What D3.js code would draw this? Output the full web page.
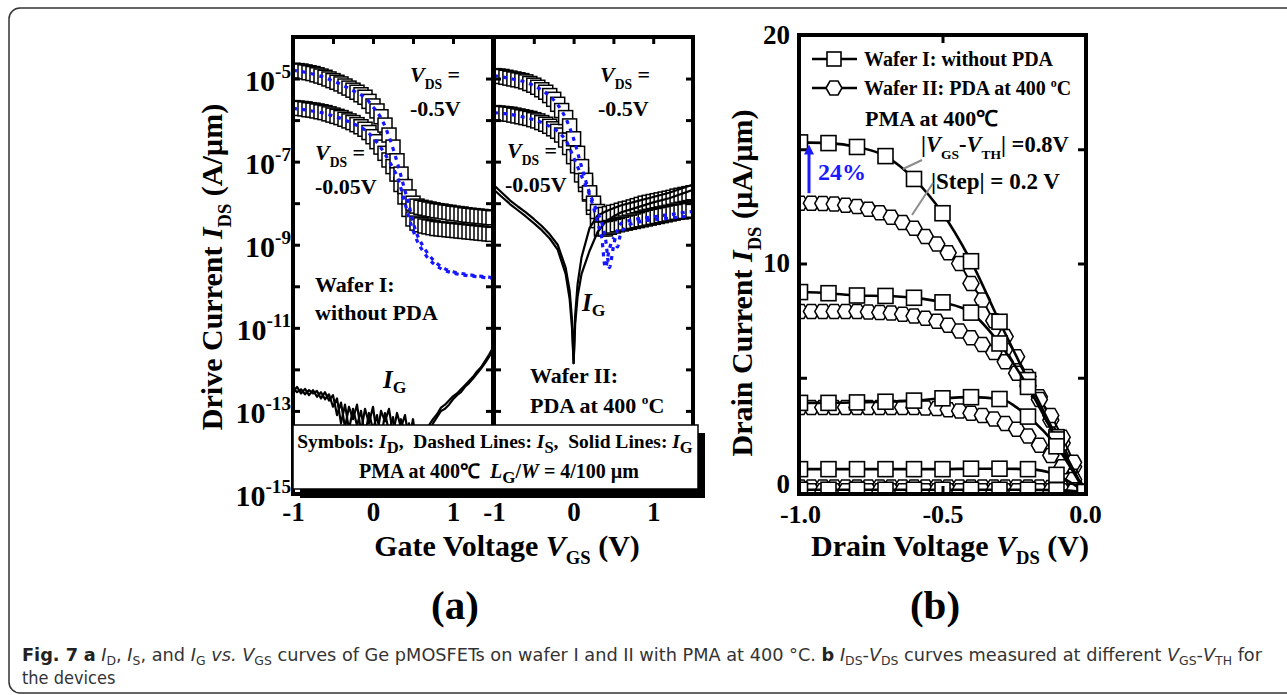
<!DOCTYPE html>
<html>
<meta charset="utf-8">
<style>
body { margin: 0; background: #fff; }
svg { display: block; }
text { font-family: "Liberation Serif", "Times New Roman", serif; font-weight: bold; fill: #000; }
text.cap { font-family: "Liberation Sans Narrow", "DejaVu Sans Condensed", "Noto Sans", sans-serif; font-weight: normal; fill: #333; }
</style>
<body>
<script src="https://d3js.org/d3.v7.min.js"></script>
<script>
// ---------- panel (a): transfer curves, values are log10(I) in A/um ----------
var vgsA = [-1.00,-0.95,-0.90,-0.85,-0.80,-0.75,-0.70,-0.65,-0.60,-0.55,-0.50,-0.45,-0.40,-0.35,-0.30,-0.25,-0.20,-0.15,-0.10,-0.05,
            0.00,0.05,0.10,0.15,0.20,0.25,0.30,0.35,0.40,0.45,0.50,0.55,0.60,0.65,0.70,0.75,0.80,0.85,0.90,0.95,
            1.00,1.05,1.10,1.15,1.20,1.25,1.30,1.35,1.40,1.45,1.50];
// I_D symbols, wafer I (Vds = -0.5 V and -0.05 V)
var idW1hi = [-4.80,-4.81,-4.82,-4.84,-4.86,-4.88,-4.91,-4.94,-4.97,-5.01,-5.05,-5.09,-5.13,-5.18,-5.23,-5.28,-5.33,-5.39,-5.45,-5.55,
              -5.66,-5.78,-5.92,-6.12,-6.36,-6.65,-6.98,-7.30,-7.60,-7.85,-8.00,-8.07,-8.10,-8.12,-8.14,-8.16,-8.18,-8.19,-8.21,-8.22,
              -8.24,-8.25,-8.26,-8.28,-8.29,-8.30,-8.31,-8.32,-8.33,-8.34,-8.35];
var idW1lo = [-5.70,-5.71,-5.72,-5.73,-5.75,-5.76,-5.78,-5.80,-5.82,-5.85,-5.88,-5.91,-5.94,-5.98,-6.02,-6.06,-6.11,-6.16,-6.22,-6.30,
              -6.40,-6.52,-6.65,-6.80,-6.96,-7.12,-7.30,-7.55,-7.85,-8.15,-8.38,-8.48,-8.52,-8.55,-8.57,-8.59,-8.61,-8.62,-8.63,-8.64,
              -8.65,-8.66,-8.67,-8.68,-8.69,-8.70,-8.71,-8.72,-8.73,-8.74,-8.75];
// I_D symbols, wafer II
var idW2hi = [-4.93,-4.94,-4.95,-4.97,-4.99,-5.01,-5.03,-5.05,-5.08,-5.12,-5.16,-5.21,-5.27,-5.33,-5.41,-5.50,-5.62,-5.77,-5.94,-6.14,
              -6.45,-6.80,-7.12,-7.45,-7.75,-8.00,-8.20,-8.28,-8.27,-8.25,-8.22,-8.20,-8.17,-8.14,-8.12,-8.09,-8.06,-8.03,-8.00,-7.98,
              -7.96,-7.94,-7.92,-7.90,-7.88,-7.86,-7.83,-7.81,-7.79,-7.77,-7.75];
var idW2lo = [-5.82,-5.83,-5.84,-5.85,-5.86,-5.88,-5.90,-5.92,-5.94,-5.96,-5.99,-6.02,-6.06,-6.10,-6.15,-6.21,-6.27,-6.36,-6.48,-6.66,
              -6.88,-7.10,-7.32,-7.55,-7.78,-8.10,-8.42,-8.62,-8.62,-8.58,-8.55,-8.52,-8.50,-8.48,-8.46,-8.44,-8.42,-8.40,-8.38,-8.36,
              -8.34,-8.32,-8.30,-8.28,-8.26,-8.24,-8.22,-8.21,-8.20,-8.18,-8.17];
// I_S dashed lines
var vgsS = [-1.0,-0.9,-0.8,-0.7,-0.6,-0.5,-0.4,-0.3,-0.2,-0.1,0.0,0.1,0.2,0.3,0.35,0.4,0.45,0.5,0.55,0.6,0.7,0.8,0.9,1.0,1.1,1.2,1.3,1.4,1.5];
var isW1hi = [-4.80,-4.83,-4.87,-4.92,-4.98,-5.06,-5.14,-5.24,-5.34,-5.46,-5.68,-5.95,-6.40,-7.00,-7.35,-7.70,-8.05,-8.45,-8.75,-8.95,
              -9.25,-9.45,-9.58,-9.65,-9.69,-9.72,-9.75,-9.77,-9.79];
var isW1lo = [-5.72,-5.74,-5.77,-5.80,-5.84,-5.90,-5.96,-6.04,-6.13,-6.24,-6.42,-6.67,-6.98,-7.35,-7.65,-8.00,-8.35,-8.65,-8.90,-9.08,
              -9.35,-9.52,-9.62,-9.68,-9.72,-9.75,-9.77,-9.79,-9.81];
var isW2hi = [-4.93,-4.96,-5.00,-5.04,-5.09,-5.17,-5.28,-5.42,-5.63,-5.95,-6.45,-7.12,-7.75,-8.22,-8.45,-8.85,-9.55,-9.05,-8.65,-8.48,
              -8.42,-8.38,-8.35,-8.33,-8.30,-8.28,-8.25,-8.22,-8.20];
var isW2lo = [-5.82,-5.84,-5.86,-5.90,-5.94,-5.99,-6.06,-6.15,-6.27,-6.48,-6.90,-7.35,-7.80,-8.45,-8.80,-9.55,-9.10,-8.85,-9.05,-8.70,
              -8.52,-8.46,-8.42,-8.40,-8.38,-8.36,-8.34,-8.32,-8.30];
// I_G solid lines, wafer I (noisy floor), read on the vgsA grid
var igW1a = [-12.45,-12.55,-12.48,-12.60,-12.50,-12.58,-12.52,-12.70,-12.55,-12.75,-12.62,-13.10,-12.80,-13.40,-12.90,-13.20,-12.85,-13.50,-12.95,-13.30,
             -12.90,-13.60,-13.00,-13.25,-12.95,-13.55,-13.05,-13.40,-13.10,-13.70,-13.20,-13.90,-14.10,-13.70,-13.50,-13.30,-13.15,-13.00,-12.95,-12.85,
             -12.72,-12.62,-12.55,-12.42,-12.33,-12.22,-12.10,-11.98,-11.85,-11.70,-11.52];
var igW1b = [-12.55,-12.42,-12.58,-12.47,-12.62,-12.50,-12.66,-12.55,-12.72,-12.60,-12.90,-12.70,-13.30,-12.85,-13.45,-12.95,-13.35,-13.00,-13.60,-13.05,
             -13.45,-13.10,-13.70,-13.05,-13.50,-13.15,-13.80,-13.20,-13.60,-13.30,-14.00,-13.60,-13.75,-13.55,-13.35,-13.20,-13.08,-12.92,-12.85,-12.75,
             -12.65,-12.58,-12.48,-12.38,-12.28,-12.18,-12.05,-11.95,-11.80,-11.65,-11.48];
// I_G solid lines, wafer II
var vgsG2 = [-1.0,-0.9,-0.8,-0.7,-0.6,-0.5,-0.4,-0.3,-0.2,-0.1,-0.05,-0.02,0.0,0.02,0.05,0.1,0.2,0.3,0.4,0.5,0.6,0.8,1.0,1.2,1.5];
var igW2a = [-7.57,-7.75,-7.93,-8.08,-8.22,-8.38,-8.55,-8.75,-9.00,-9.55,-10.10,-10.80,-11.85,-10.70,-9.95,-9.30,-8.60,-8.30,-8.20,-8.12,
             -8.05,-7.95,-7.85,-7.75,-7.55];
var igW2b = [-7.68,-7.85,-8.02,-8.17,-8.32,-8.48,-8.65,-8.85,-9.12,-9.70,-10.30,-11.00,-11.85,-10.90,-10.25,-9.70,-9.15,-8.70,-8.45,-8.32,
             -8.22,-8.10,-7.98,-7.88,-7.68];
var yTicksA = [-5, -7, -9, -11, -13, -15];
var xTicksA = [-1, 0, 1];

// ---------- panel (b): output curves, uA/um ----------
var vdsW1 = [-1.0,-0.9,-0.8,-0.7,-0.6,-0.5,-0.4,-0.3,-0.2,-0.1,0.0];
var idW1_08 = [15.3,15.27,15.1,14.7,13.7,12.2,10.1,7.45,4.9,2.4,0];
var idW1_06 = [8.75,8.7,8.6,8.58,8.5,8.3,7.85,6.5,4.6,2.3,0];
var idW1_04 = [3.9,3.9,3.92,3.95,4.0,4.1,4.15,4.07,3.3,2.0,0];
var idW1_02 = [1.0,1.0,1.0,1.0,1.0,1.0,1.02,1.02,1.0,0.75,0];
var idW1_00 = [0.1,0.1,0.1,0.1,0.1,0.1,0.1,0.1,0.1,0.08,0];
var vdsW2 = [-1.00,-0.96,-0.92,-0.88,-0.84,-0.80,-0.76,-0.72,-0.68,-0.64,-0.60,-0.56,-0.52,-0.48,-0.44,-0.40,-0.36,-0.32,-0.28,-0.24,
             -0.20,-0.16,-0.12,-0.08,-0.04,0.00];
var idW2_08 = [12.64,12.64,12.63,12.6,12.55,12.49,12.37,12.22,12.02,11.79,11.54,11.18,10.85,10.47,10.0,9.13,8.4,7.5,6.8,5.92,
               5.05,4.17,3.15,2.14,1.1,0];
var idW2_06 = [7.9,7.9,7.9,7.9,7.9,7.9,7.88,7.86,7.83,7.78,7.7,7.6,7.47,7.3,7.05,6.75,6.45,6.1,5.7,5.2,
               4.65,4.05,3.35,2.4,1.3,0];
var idW2_04 = [3.7,3.7,3.7,3.7,3.7,3.7,3.7,3.7,3.7,3.7,3.7,3.68,3.65,3.6,3.55,3.45,3.35,3.2,3.0,2.75,
               2.45,2.05,1.6,1.1,0.55,0];
var idW2_02 = [0.22,0.22,0.22,0.22,0.22,0.22,0.22,0.22,0.22,0.22,0.22,0.22,0.22,0.22,0.22,0.22,0.22,0.22,0.22,0.22,
               0.22,0.22,0.2,0.17,0.1,0];
var idW2_00 = [0.05,0.05,0.05,0.05,0.05,0.05,0.05,0.05,0.05,0.05,0.05,0.05,0.05,0.05,0.05,0.05,0.05,0.05,0.05,0.05,
               0.05,0.05,0.05,0.05,0.03,0];
var yTicksB = [0, 10, 20];
var xTicksB = [-1.0, -0.5, 0.0];

var svg = d3.select("body").append("svg").attr("width", 1287).attr("height", 695);

// card outline
svg.append("rect").attr("x", 9).attr("y", 8).attr("width", 1300).attr("height", 685).attr("rx", 11)
  .attr("fill", "none").attr("stroke", "#333").attr("stroke-width", 1.5);

// text with sub/superscripts
function rich(g, x, y, size, parts, anchor, cls) {
  var t = g.append("text").attr("x", x).attr("y", y).style("font-size", size + "px")
    .attr("text-anchor", anchor || "start");
  if (cls) t.attr("class", cls);
  var off = 0;
  parts.forEach(function(p) {
    if (typeof p === "string") p = {t: p};
    var shift = p.sub ? size * (p.d || 0.32) : p.sup ? -size * (p.d || 0.42) : 0;
    var s = t.append("tspan").attr("dy", shift - off).text(p.t);
    off = shift;
    if (p.sub || p.sup) s.style("font-size", size * (p.k || 0.6) + "px");
    if (p.i) s.style("font-style", "italic");
    if (p.b) s.style("font-weight", "bold");
    if (p.c) s.style("fill", p.c);
  });
  return t;
}

function styleTicks(ax, w) {
  ax.select(".domain").remove();
  ax.selectAll(".tick line").attr("stroke", "#000").attr("stroke-width", w);
}

// ================= panel (a) =================
var yA = d3.scaleLog().domain([1e-15, 1e-4]).range([494, 37]);
var xA1 = d3.scaleLinear().domain([-1, 1.5]).range([293, 493]);
var xA2 = d3.scaleLinear().domain([-1, 1.5]).range([494, 693]);
function ey(v) { return yA(Math.pow(10, v)); }

function drawTransfer(xs, key, idHi, idLo, isHi, isLo, igA, igB, vG) {
  var x0 = xs.range()[0], x1 = xs.range()[1], yt = yA.range()[1], yb = yA.range()[0];
  svg.append("clipPath").attr("id", key).append("rect")
    .attr("x", x0).attr("y", yt).attr("width", x1 - x0).attr("height", yb - yt);
  var g = svg.append("g").attr("clip-path", "url(#" + key + ")");

  [idLo, idHi].forEach(function(arr) {
    g.append("g").selectAll("rect").data(arr).join("rect")
      .attr("x", function(d, i) { return xs(vgsA[i]) - 7; })
      .attr("y", function(d) { return ey(d) - 7; })
      .attr("width", 14).attr("height", 14)
      .attr("fill", "#fff").attr("stroke", "#000").attr("stroke-width", 1.5);
  });

  var lg = d3.line().x(function(d, i) { return xs(vG[i]); }).y(function(d) { return ey(d); });
  [igA, igB].forEach(function(arr) {
    g.append("path").attr("d", lg(arr)).attr("fill", "none").attr("stroke", "#000")
      .attr("stroke-width", 2.2).attr("stroke-linejoin", "round");
  });

  var ls = d3.line().x(function(d, i) { return xs(vgsS[i]); }).y(function(d) { return ey(d); })
    .curve(d3.curveCatmullRom);
  [isHi, isLo].forEach(function(arr) {
    g.append("path").attr("d", ls(arr)).attr("fill", "none").attr("stroke", "#1515ff")
      .attr("stroke-width", 3.2).attr("stroke-dasharray", "4,5");
  });

  // inner ticks
  var dec = d3.range(-14, -4).map(function(e) { return Math.pow(10, e); });
  styleTicks(svg.append("g").attr("transform", "translate(" + x0 + ",0)")
    .call(d3.axisRight(yA).tickValues(dec).tickSize(7).tickFormat("")), 3);
  styleTicks(svg.append("g").attr("transform", "translate(" + x1 + ",0)")
    .call(d3.axisLeft(yA).tickValues(dec).tickSize(7).tickFormat("")), 3);
  var xt = [-0.5, 0, 0.5, 1];
  styleTicks(svg.append("g").attr("transform", "translate(0," + yt + ")")
    .call(d3.axisBottom(xs).tickValues(xt).tickSize(7).tickFormat("")), 3);
  styleTicks(svg.append("g").attr("transform", "translate(0," + yb + ")")
    .call(d3.axisTop(xs).tickValues(xt).tickSize(7).tickFormat("")), 3);

  svg.append("rect").attr("x", x0).attr("y", yt).attr("width", x1 - x0).attr("height", yb - yt)
    .attr("fill", "none").attr("stroke", "#000").attr("stroke-width", 4);

  // x tick labels
  var ax = svg.append("g").attr("transform", "translate(0,521)")
    .call(d3.axisBottom(xs).tickValues(xTicksA).tickSize(0).tickPadding(0)
      .tickFormat(function(v) { return String(v); }));
  ax.select(".domain").remove();
  ax.selectAll("text").attr("dy", null).attr("y", 0).style("font-size", "27px");
}

drawTransfer(xA1, "clipA1", idW1hi, idW1lo, isW1hi, isW1lo, igW1a, igW1b, vgsA);
drawTransfer(xA2, "clipA2", idW2hi, idW2lo, isW2hi, isW2lo, igW2a, igW2b, vgsG2);

// y tick labels 10^n
yTicksA.forEach(function(e) {
  rich(svg, 291, ey(e) + 12, 30, ["10", {t: String(e), sup: true, k: 0.64, d: 0.42}], "end");
});

// annotations (a)
rich(svg, 410, 82, 22, [{t: "V", i: true}, {t: "DS", sub: true, k: 0.62, d: 0.3}, " ="]);
rich(svg, 410, 116, 22, ["-0.5V"]);
rich(svg, 315, 160, 22, [{t: "V", i: true}, {t: "DS", sub: true, k: 0.62, d: 0.3}, " ="]);
rich(svg, 315, 194, 22, ["-0.05V"]);
rich(svg, 315, 292, 22, ["Wafer I:"]);
rich(svg, 315, 320, 22, ["without PDA"]);
rich(svg, 383, 388, 25, [{t: "I", i: true}, {t: "G", sub: true, k: 0.7, d: 0.2}]);

rich(svg, 600, 82, 22, [{t: "V", i: true}, {t: "DS", sub: true, k: 0.62, d: 0.3}, " ="]);
rich(svg, 598, 116, 22, ["-0.5V"]);
rich(svg, 507, 158, 22, [{t: "V", i: true}, {t: "DS", sub: true, k: 0.62, d: 0.3}, " ="]);
rich(svg, 505, 192, 22, ["-0.05V"]);
rich(svg, 582, 311, 25, [{t: "I", i: true}, {t: "G", sub: true, k: 0.7, d: 0.2}]);
rich(svg, 530, 383, 22, ["Wafer II:"]);
rich(svg, 530, 413, 22, ["PDA at 400 ", {t: "o", sup: true, k: 0.6, d: 0.42}, "C"]);

// legend box (a)
svg.append("rect").attr("x", 300).attr("y", 433).attr("width", 405).attr("height", 65).attr("fill", "#000");
svg.append("rect").attr("x", 293).attr("y", 425).attr("width", 405).attr("height", 64)
  .attr("fill", "#fff").attr("stroke", "#000").attr("stroke-width", 1.5);
rich(svg, 495, 448, 19.5, ["Symbols: ", {t: "I", i: true}, {t: "D", sub: true, k: 0.85, d: 0.25}, ",\u00a0 Dashed Lines: ",
  {t: "I", i: true}, {t: "S", sub: true, k: 0.85, d: 0.25}, ",\u00a0 Solid Lines: ", {t: "I", i: true},
  {t: "G", sub: true, k: 0.85, d: 0.25}], "middle");
rich(svg, 499, 478, 20, ["PMA at 400\u2103\u00a0 ", {t: "L", i: true}, {t: "G", sub: true, k: 0.85, d: 0.25},
  "/", {t: "W", i: true}, " = 4/100 \u00b5m"], "middle");

// axis titles (a)
rich(svg, 507, 556, 30, ["Gate Voltage ", {t: "V", i: true}, {t: "GS", sub: true, k: 0.62, d: 0.28}, " (V)"], "middle");
var gya = svg.append("g").attr("transform", "translate(222,267) rotate(-90)");
rich(gya, 0, 0, 30, ["Drive Current ", {t: "I", i: true}, {t: "DS", sub: true, k: 0.62, d: 0.3}, " (A/\u00b5m)"], "middle");

// ================= panel (b) =================
var xB = d3.scaleLinear().domain([-1, 0]).range([800, 1085]);
var yB = d3.scaleLinear().domain([0, 20]).range([492, 35]);

svg.append("clipPath").attr("id", "clipB").append("rect")
  .attr("x", 799).attr("y", 35).attr("width", 287).attr("height", 459);
var gb = svg.append("g").attr("clip-path", "url(#clipB)");

function hexPath(w, h) {
  return "M" + (-w / 2) + ",0L" + (-w / 4) + "," + (-h / 2) + "L" + (w / 4) + "," + (-h / 2) +
    "L" + (w / 2) + ",0L" + (w / 4) + "," + (h / 2) + "L" + (-w / 4) + "," + (h / 2) + "Z";
}
var hex = hexPath(16, 14);

[idW2_08, idW2_06, idW2_04, idW2_02, idW2_00].forEach(function(arr) {
  var ln = d3.line().x(function(d, i) { return xB(vdsW2[i]); }).y(function(d) { return yB(d); })
    .curve(d3.curveMonotoneX);
  gb.append("path").attr("d", ln(arr)).attr("fill", "none").attr("stroke", "#000").attr("stroke-width", 2);
  gb.append("g").selectAll("path").data(arr).join("path")
    .attr("transform", function(d, i) { return "translate(" + xB(vdsW2[i]) + "," + yB(d) + ")"; })
    .attr("d", hex).attr("fill", "#fff").attr("stroke", "#000").attr("stroke-width", 1.5);
});
[idW1_08, idW1_06, idW1_04, idW1_02, idW1_00].forEach(function(arr) {
  var ln = d3.line().x(function(d, i) { return xB(vdsW1[i]); }).y(function(d) { return yB(d); })
    .curve(d3.curveMonotoneX);
  gb.append("path").attr("d", ln(arr)).attr("fill", "none").attr("stroke", "#000").attr("stroke-width", 2.6);
  gb.append("g").selectAll("rect").data(arr).join("rect")
    .attr("x", function(d, i) { return xB(vdsW1[i]) - 7.5; })
    .attr("y", function(d) { return yB(d) - 7.5; })
    .attr("width", 15).attr("height", 15)
    .attr("fill", "#fff").attr("stroke", "#000").attr("stroke-width", 1.6);
});

styleTicks(svg.append("g").attr("transform", "translate(799,0)")
  .call(d3.axisRight(yB).tickValues([5, 10, 15]).tickSize(8).tickFormat("")), 3);
styleTicks(svg.append("g").attr("transform", "translate(1086,0)")
  .call(d3.axisLeft(yB).tickValues([5, 10, 15]).tickSize(8).tickFormat("")), 3);
styleTicks(svg.append("g").attr("transform", "translate(0,35)")
  .call(d3.axisBottom(xB).tickValues([-0.5]).tickSize(8).tickFormat("")), 3);
styleTicks(svg.append("g").attr("transform", "translate(0,494)")
  .call(d3.axisTop(xB).tickValues([-0.5]).tickSize(8).tickFormat("")), 3);
svg.append("rect").attr("x", 799).attr("y", 35).attr("width", 287).attr("height", 459)
  .attr("fill", "none").attr("stroke", "#000").attr("stroke-width", 4);

var axb = svg.append("g").attr("transform", "translate(0,523)")
  .call(d3.axisBottom(xB).tickValues(xTicksB).tickSize(0).tickPadding(0)
    .tickFormat(function(v) { return v.toFixed(1); }));
axb.select(".domain").remove();
axb.selectAll("text").attr("dy", null).attr("y", 0).style("font-size", "26px");

var ayb = svg.append("g").attr("transform", "translate(790,0)")
  .call(d3.axisLeft(yB).tickValues(yTicksB).tickSize(0).tickPadding(0)
    .tickFormat(function(v) { return String(v); }));
ayb.select(".domain").remove();
ayb.selectAll("text").attr("dy", function(v) { return v === 0 ? "0.03em" : "0.3em"; })
  .attr("x", 0).style("font-size", "27px");

// legend (b)
[{y: 59, name: "sq", lab: ["Wafer I: without PDA"]},
 {y: 88, name: "hx", lab: ["Wafer II: PDA at 400 ", {t: "o", sup: true, k: 0.6, d: 0.42}, "C"]}].forEach(function(it) {
  svg.append("line").attr("x1", 812).attr("x2", 857).attr("y1", it.y).attr("y2", it.y)
    .attr("stroke", "#000").attr("stroke-width", 2.5);
  if (it.name === "sq") {
    svg.append("rect").attr("x", 827).attr("y", it.y - 7).attr("width", 14).attr("height", 14)
      .attr("fill", "#fff").attr("stroke", "#000").attr("stroke-width", 1.6);
  } else {
    svg.append("path").attr("transform", "translate(834," + it.y + ")").attr("d", hex)
      .attr("fill", "#fff").attr("stroke", "#000").attr("stroke-width", 1.6);
  }
  rich(svg, 864, it.y + 7, 20, it.lab);
});
rich(svg, 865, 126, 22, ["PMA at 400\u2103"]);
rich(svg, 921, 152, 22.5, ["|", {t: "V", i: true}, {t: "GS", sub: true, k: 0.6, d: 0.3}, "-", {t: "V", i: true},
  {t: "TH", sub: true, k: 0.6, d: 0.3}, "| =0.8V"]);
rich(svg, 931, 189, 23, ["|Step| = 0.2 V"]);
svg.append("line").attr("x1", 903).attr("y1", 169).attr("x2", 922).attr("y2", 160)
  .attr("stroke", "#8c8c8c").attr("stroke-width", 2);
svg.append("line").attr("x1", 912).attr("y1", 215).attr("x2", 933).attr("y2", 183)
  .attr("stroke", "#8c8c8c").attr("stroke-width", 2);

// 24% arrow from wafer II to wafer I at Vds = -1 V
var ax0 = xB(-1) + 9, ya0 = yB(idW2_08[0]) - 10, ya1 = yB(idW1_08[0]) + 2;
svg.append("line").attr("x1", ax0).attr("x2", ax0).attr("y1", ya0).attr("y2", ya1 + 9)
  .attr("stroke", "#1a1aff").attr("stroke-width", 3);
svg.append("path").attr("d", "M" + (ax0 - 5) + "," + (ya1 + 10) + "L" + ax0 + "," + ya1 + "L" + (ax0 + 5) + "," + (ya1 + 10) + "Z")
  .attr("fill", "#1a1aff");
rich(svg, 818, 180, 24, [{t: "24%", c: "#1a1aff"}]);

// axis titles (b)
rich(svg, 950, 556, 30, ["Drain Voltage ", {t: "V", i: true}, {t: "DS", sub: true, k: 0.62, d: 0.28}, " (V)"], "middle");
var gyb = svg.append("g").attr("transform", "translate(752,283) rotate(-90)");
rich(gyb, 0, 0, 30, ["Drain Current ", {t: "I", i: true}, {t: "DS", sub: true, k: 0.62, d: 0.3}, " (\u00b5A/\u00b5m)"], "middle");

// panel letters
rich(svg, 455, 619, 41, ["(a)"], "middle");
rich(svg, 935, 619, 41, ["(b)"], "middle");

// caption
var cap1 = rich(svg, 22, 661, 18, [{t: "Fig. 7", b: true, c: "#222"}, " ", {t: "a", b: true, c: "#222"}, " ",
  {t: "I", i: true}, {t: "D", sub: true, k: 0.7, d: 0.2}, ", ", {t: "I", i: true}, {t: "S", sub: true, k: 0.7, d: 0.2},
  ", and ", {t: "I", i: true}, {t: "G", sub: true, k: 0.7, d: 0.2}, " ", {t: "vs.", i: true}, " ",
  {t: "V", i: true}, {t: "GS", sub: true, k: 0.7, d: 0.2},
  " curves of Ge pMOSFETs on wafer I and II with PMA at 400 \u00b0C. ", {t: "b", b: true, c: "#222"}, " ",
  {t: "I", i: true}, {t: "DS", sub: true, k: 0.7, d: 0.2}, "-", {t: "V", i: true}, {t: "DS", sub: true, k: 0.7, d: 0.2},
  " curves measured at different ", {t: "V", i: true}, {t: "GS", sub: true, k: 0.7, d: 0.2}, "-",
  {t: "V", i: true}, {t: "TH", sub: true, k: 0.7, d: 0.2}, " for"], "start", "cap");
cap1.attr("textLength", 1240).attr("lengthAdjust", "spacingAndGlyphs");
rich(svg, 22, 684, 18, ["the devices"], "start", "cap");
</script>
</body>
</html>
